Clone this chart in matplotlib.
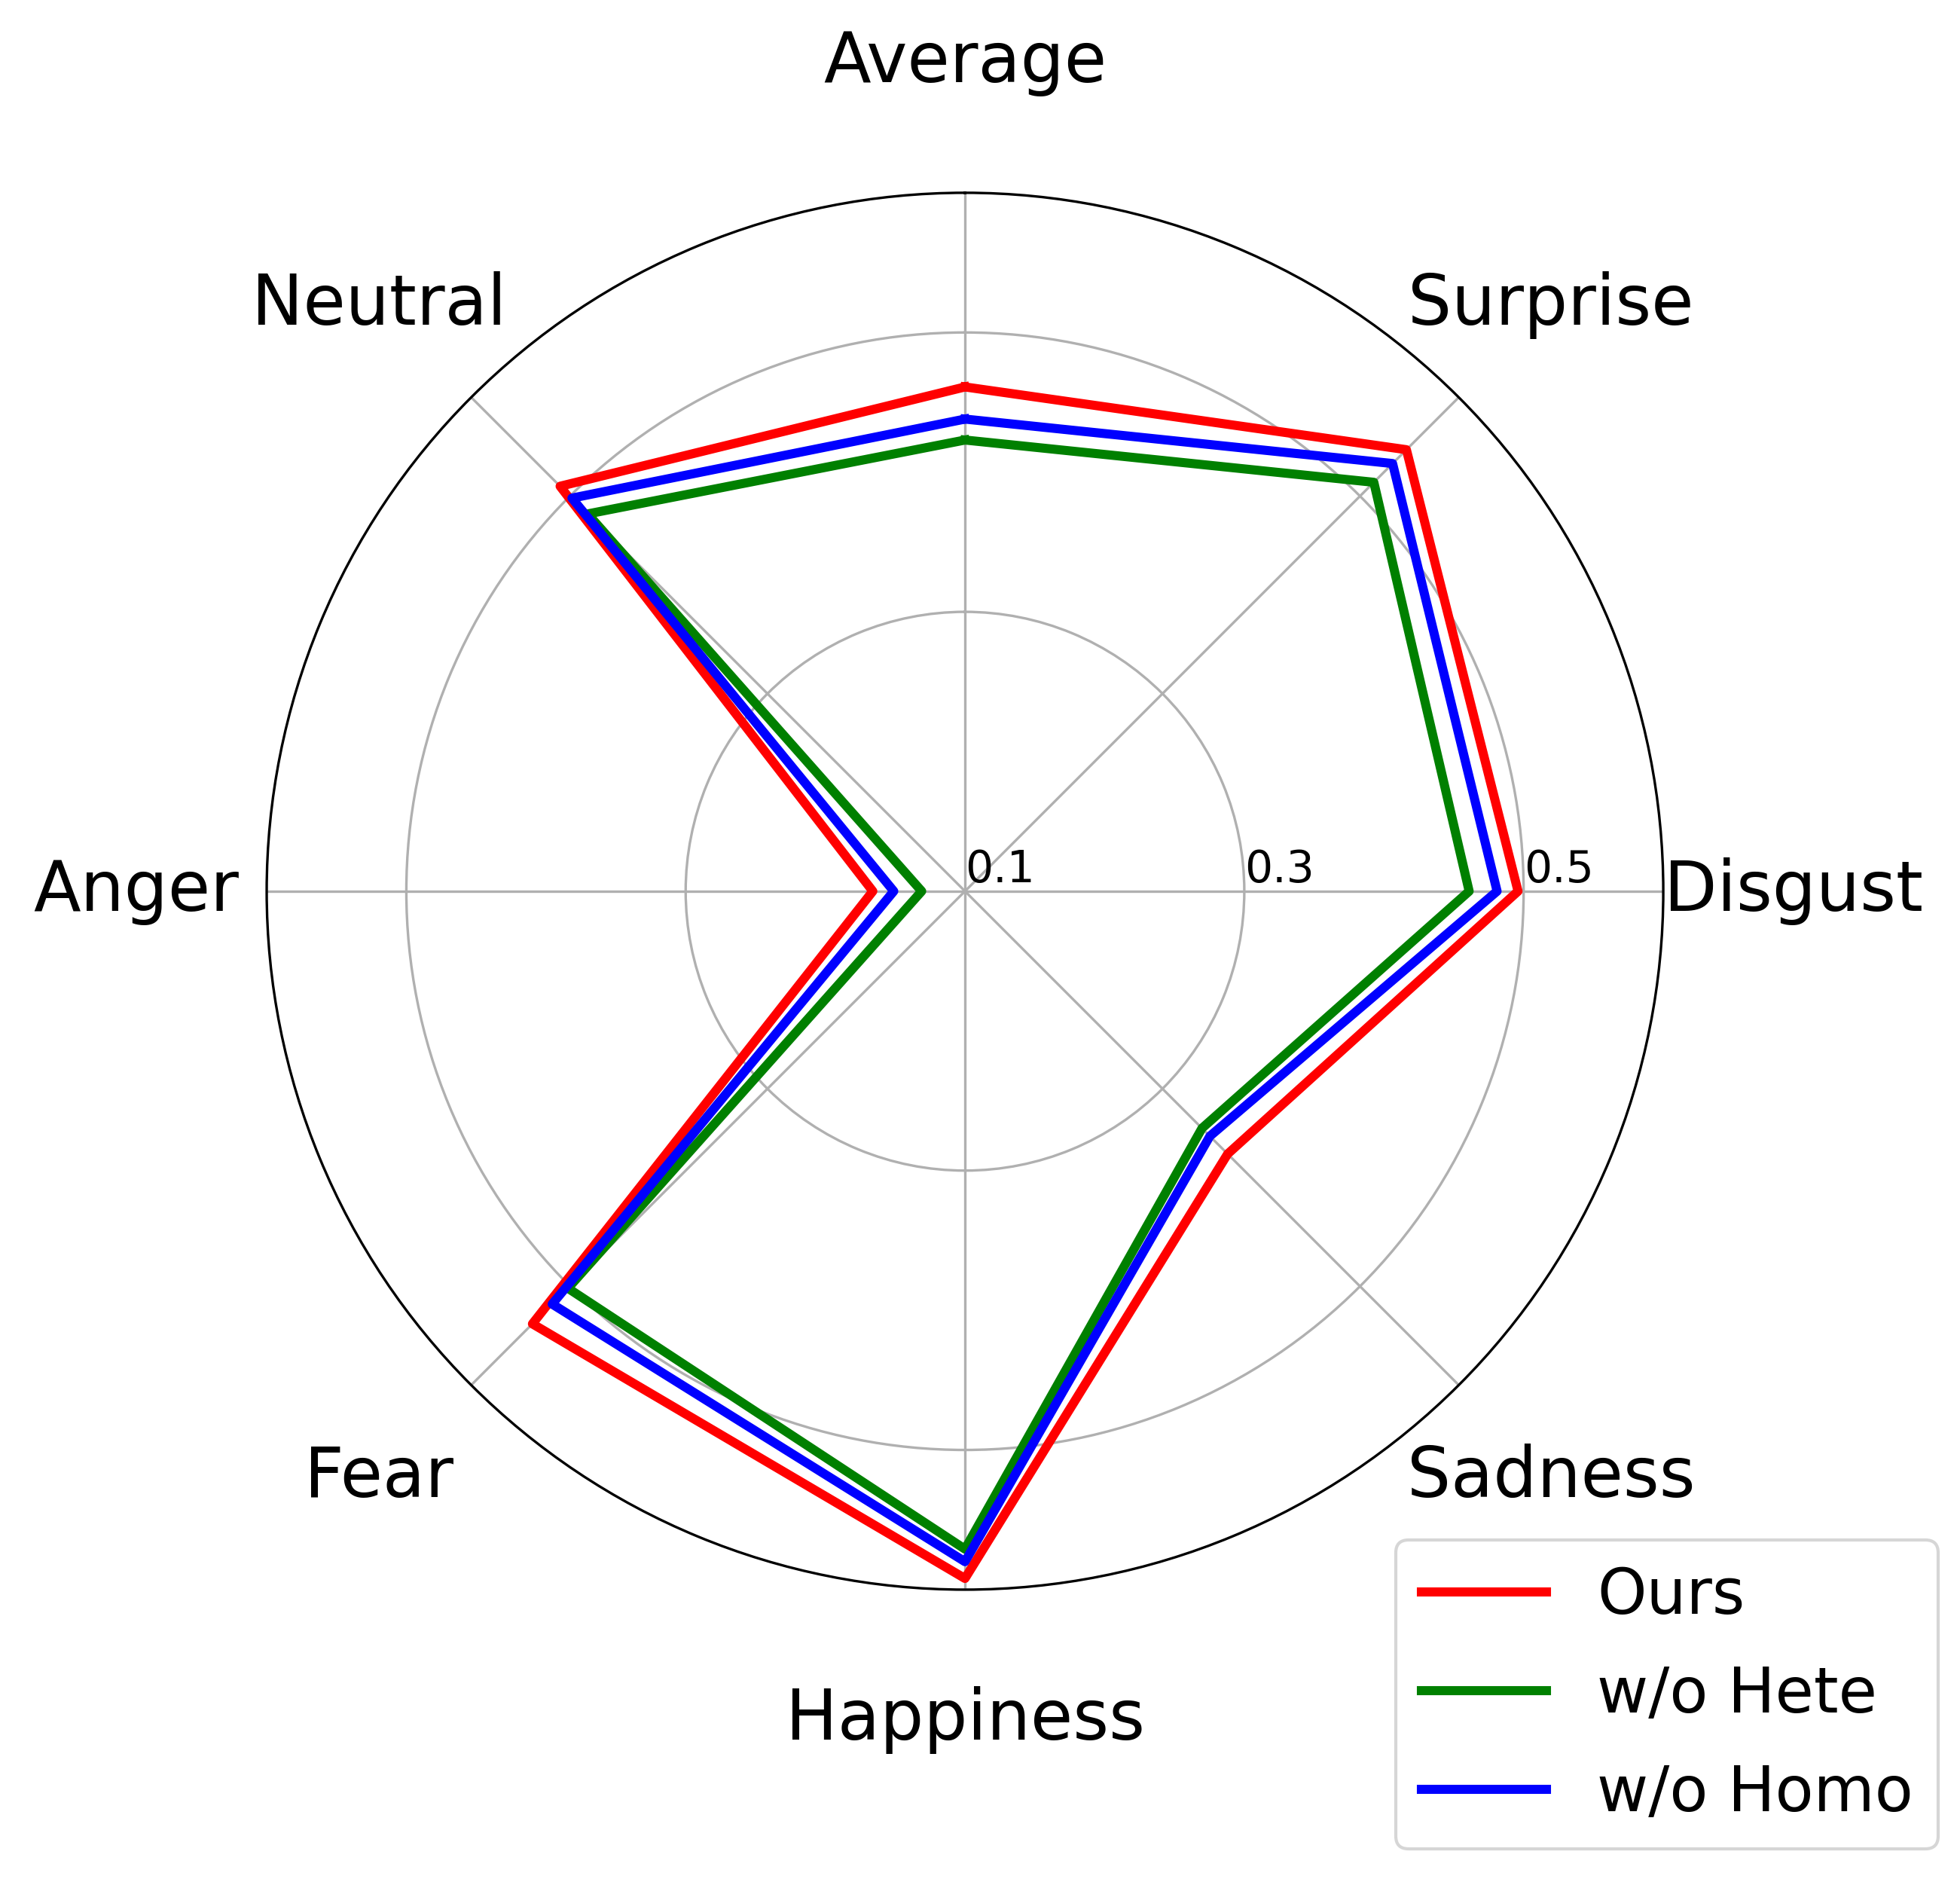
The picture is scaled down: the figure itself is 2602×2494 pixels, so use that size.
import numpy as np
import matplotlib
matplotlib.use("Agg")
import matplotlib.pyplot as plt

### Daten (im Uhrzeigersinn ab oben)
categories = ['Average', 'Surprise', 'Disgust', 'Sadness', 'Happiness', 'Fear', 'Anger', 'Neutral']
ours     = [0.461, 0.547, 0.496, 0.366, 0.592, 0.538, 0.166, 0.510]
wo_hete  = [0.423, 0.514, 0.461, 0.340, 0.571, 0.502, 0.131, 0.482]
wo_homo  = [0.438, 0.533, 0.481, 0.348, 0.580, 0.518, 0.151, 0.498]
r_ticks = [0.1, 0.3, 0.5]
r_ticklabels = ['0.1', '0.3', '0.5']

N = len(categories)
angles = np.arange(N) / N * 2 * np.pi
angles = np.concatenate([angles, angles[:1]])

def closed(v):
    return list(v) + [v[0]]

fig = plt.figure(figsize=(2603/300, 2494/300), dpi=300)
ax = fig.add_axes([0.136, 0.154, 0.7123, 0.7434], polar=True)
ax.set_theta_offset(np.pi / 2)
ax.set_theta_direction(-1)

ax.plot(angles, closed(ours), color='red', linewidth=2.9, label='Ours')
ax.plot(angles, closed(wo_hete), color='green', linewidth=2.9, label='w/o Hete')
ax.plot(angles, closed(wo_homo), color='blue', linewidth=2.9, label='w/o Homo')

ax.set_xticks(angles[:-1])
ax.set_xticklabels(categories, fontsize=22)
ax.tick_params(axis='x', pad=31)

ax.set_rlabel_position(90)
ax.set_yticks(r_ticks)
ax.set_yticklabels(r_ticklabels, fontsize=14)
ax.set_ylim(0.1, 0.6)

ax.legend(loc='lower right', bbox_to_anchor=(0.9885, 0.016), bbox_transform=fig.transFigure,
          borderaxespad=0, fontsize=20, labelspacing=0.6)

fig.savefig('out.png', dpi=300)
